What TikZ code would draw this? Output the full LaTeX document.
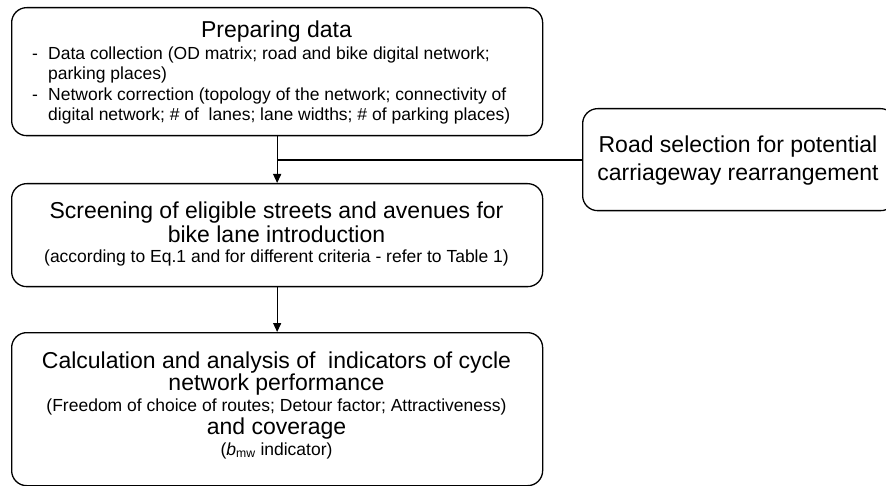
\documentclass[tikz,border=0pt]{standalone}
\usepackage{fontspec}
\setmainfont{Liberation Sans}
\usetikzlibrary{arrows.meta}
\newcommand{\bigtxt}{\fontsize{23}{24}\selectfont}
\newcommand{\smalltxt}{\fontsize{17.5}{20}\selectfont}
\begin{document}
\begin{tikzpicture}[x=1pt,y=-1pt,
  box/.style={draw, line width=1.3pt, rounded corners=15pt, inner sep=0pt, anchor=north west},
  big/.style={font=\bigtxt, inner sep=0pt, anchor=base},
  small/.style={font=\smalltxt, inner sep=0pt, anchor=base},
  item/.style={font=\smalltxt, inner sep=0pt, anchor=base west},
  link/.style={line width=1.3pt},
  arrowlink/.style={link, -{Triangle[length=9pt,width=8pt]}}]
\clip (0,0) rectangle (886,486);

% boxes
\node[box, minimum width=531pt, minimum height=128pt] (prep) at (11,7) {};
\node[box, minimum width=313pt, minimum height=102pt] (road) at (582,108) {};
\node[box, minimum width=531pt, minimum height=103pt] (screen) at (11,183) {};
\node[box, minimum width=531pt, minimum height=153pt] (calc) at (11,332) {};

% preparing data
\node[big] (preptitle) at (276.5,38) {Preparing data};
\node[item] (dash1) at (32,60) {-};
\node[item] (dc1) at (48,60) {Data collection (OD matrix; road and bike digital network;};
\node[item] (dc2) at (48,80) {parking places)};
\node[item] (dash2) at (32,101) {-};
\node[item] (nc1) at (48,101) {Network correction (topology of the network; connectivity of};
\node[item] (nc2) at (48,121) {digital network; \# of \ lanes; lane widths; \# of parking places)};

% road selection
\node[big] (road1) at (738,153) {Road selection for potential};
\node[big] (road2) at (738,181) {carriageway rearrangement};

% screening
\node[big] (scr1) at (276.5,219) {Screening of eligible streets and avenues for};
\node[big] (scr2) at (276.5,243) {bike lane introduction};
\node[small] (scr3) at (276.5,263) {(according to Eq.1 and for different criteria - refer to Table 1)};

% calculation
\node[big] (calc1) at (276.5,368) {Calculation and analysis of \ indicators of cycle};
\node[big] (calc2) at (276.5,390) {network performance};
\node[small] (calc3) at (276.5,411) {(Freedom of choice of routes; Detour factor; Attractiveness)};
\node[big] (calc4) at (276.5,434) {and coverage};
\node[small] (calc5) at (276.5,455) {(\textit{b}\textsubscript{mw} indicator)};

% connectors
\draw[arrowlink] (prep.south) -- (screen.north);
\draw[link] (road.west |- 0,160) -- (prep.south |- 0,160);
\draw[arrowlink] (screen.south) -- (calc.north);
\end{tikzpicture}
\end{document}
